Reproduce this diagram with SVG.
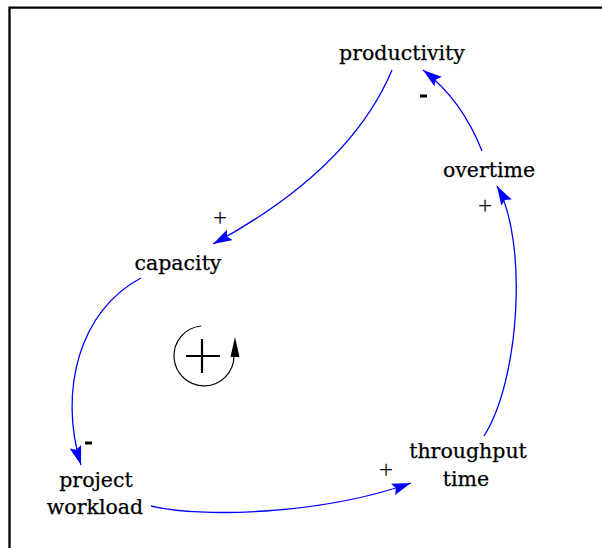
<svg xmlns="http://www.w3.org/2000/svg" width="602" height="548" viewBox="0 0 602 548">
<style>
.lbl{font-family:"DejaVu Serif","Liberation Serif",serif;font-size:20.5px;fill:#000;text-anchor:middle;stroke:#000;stroke-width:0.25}
.pol{font-family:"Liberation Serif",serif;font-size:25px;fill:#000;text-anchor:middle}
.lnk{fill:none;stroke:#0000ff;stroke-width:1.3;marker-end:url(#ah)}
</style>
<defs>
<marker id="ah" markerUnits="userSpaceOnUse" markerWidth="22" markerHeight="14" refX="19" refY="6" orient="auto">
<path d="M0,0 L19,6 L0,12 L3,6 z" fill="#0000ff"/>
</marker>
</defs>
<rect width="602" height="548" fill="#fff"/>
<path d="M9.5,548 V7.7 H602" fill="none" stroke="#000" stroke-width="2.3"/>
<g id="connectors">
<path class="lnk" d="M392,70 Q350,170 213,244"/>
<path class="lnk" d="M482,151 Q462,100 423,70"/>
<path class="lnk" d="M484,436 C520,380 528,240 497,186"/>
<path class="lnk" d="M141,278 C80,310 58,390 81,465"/>
<path class="lnk" d="M151,506 C200,518 320,515 411,483"/>
</g>
<g id="polarities">
<rect x="420" y="94.5" width="7" height="3" fill="#000"/>
<text class="pol" x="220" y="226">+</text>
<text class="pol" x="485" y="214">+</text>
<rect x="85" y="441.5" width="7" height="3" fill="#000"/>
<text class="pol" x="386" y="478">+</text>
</g>
<g id="productivity"><text class="lbl" x="402" y="60">productivity</text></g>
<g id="overtime"><text class="lbl" x="489" y="177">overtime</text></g>
<g id="capacity"><text class="lbl" x="178" y="270">capacity</text></g>
<g id="project_workload"><text class="lbl" x="96" y="487">project</text><text class="lbl" x="95" y="514">workload</text></g>
<g id="throughput_time"><text class="lbl" x="468" y="458">throughput</text><text class="lbl" x="466" y="486">time</text></g>
<g id="loop">
<path d="M201,326 A30,30 0 1 0 234,356" fill="none" stroke="#000" stroke-width="1.2"/>
<path d="M235,337 L239.5,357 L230.5,357 z" fill="#000"/>
<path d="M186,356 H220 M202,339 V373" stroke="#000" stroke-width="2.2"/>
</g>
</svg>
